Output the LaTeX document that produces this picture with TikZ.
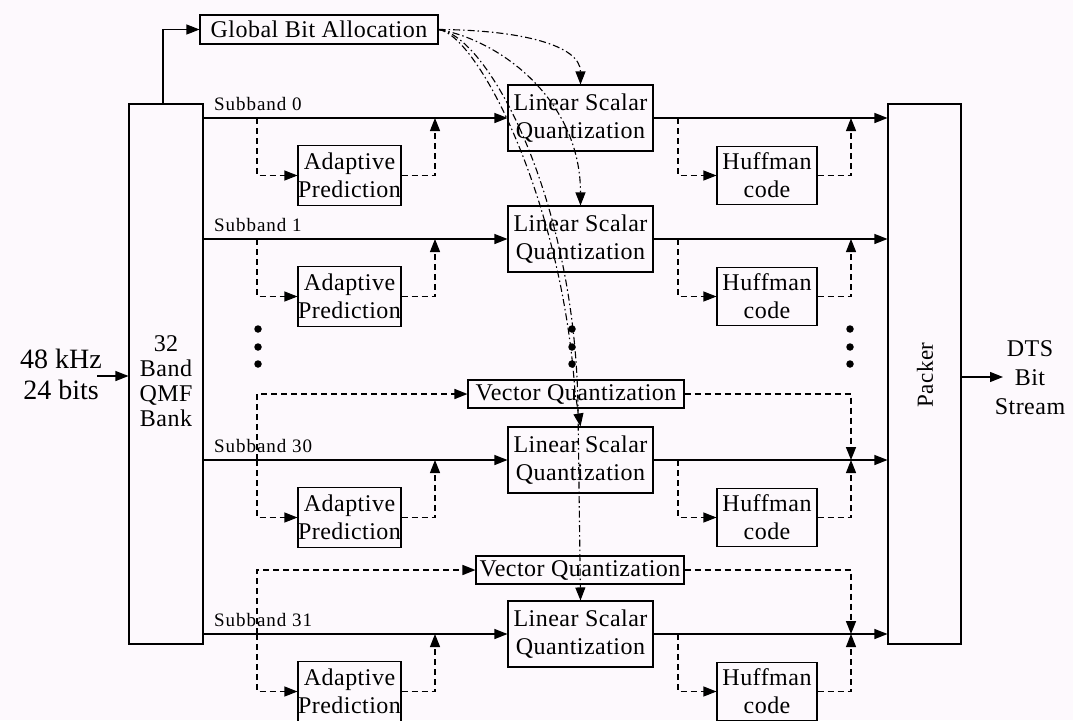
\documentclass[tikz,border=0pt]{standalone}
\usepackage{fontspec}
\setmainfont{Liberation Serif}
\newfontfamily\boxfont[LetterSpace=2]{Liberation Serif}
\newfontfamily\subfont[LetterSpace=5]{Liberation Serif}
\usetikzlibrary{arrows.meta}
\definecolor{bg}{RGB}{253,249,253}
\begin{document}
\begin{tikzpicture}[x=1pt,y=-1pt,
 box/.style={draw, line width=1.1pt, inner sep=0pt, align=center, font=\boxfont\fontsize{24}{28}\selectfont},
 arr/.style={-{Triangle[length=13pt,width=10pt]}},
 ln/.style={line width=1.2pt},
 dsh/.style={line width=1.1pt, dash pattern=on 6pt off 4pt},
 vqd/.style={line width=1.6pt, dash pattern=on 6pt off 4pt},
 dd/.style={line width=1.1pt, dash pattern=on 7pt off 3pt on 1.5pt off 3pt},
 dotn/.style={circle, fill, inner sep=0pt, minimum size=7.5pt},
 sub/.style={anchor=base west, font=\subfont\fontsize{19}{22}\selectfont, inner sep=0pt},
]
\fill[bg] (0,0) rectangle (1073,720);
\useasboundingbox (0,0) rectangle (1073,720);

\node[box, minimum width=238pt, minimum height=29pt] (gba) at (319,29.5) {Global Bit Allocation};
\node[box, minimum width=74pt, minimum height=540pt] (qmf) at (166,374) {};
\node[align=center, font=\boxfont\fontsize{24}{25}\selectfont] (qmft) at (166,381) {32\\Band\\QMF\\Bank};
\node[box, minimum width=73pt, minimum height=540pt] (pk) at (924.5,374) {};
\node[rotate=90, font=\boxfont\fontsize{23}{26}\selectfont] (pkt) at (925,375) {Packer};

\node[align=center, font=\fontsize{28}{31}\selectfont] (inp) at (61,374) {48 kHz\\24 bits};
\coordinate (ins) at (97,376);
\draw[ln,arr] (ins) -- (ins -| qmf.west);

\node[align=center, font=\boxfont\fontsize{24}{29}\selectfont] (dts) at (1030,378) {DTS\\Bit\\Stream};
\coordinate (outs) at (1003,377);
\draw[ln,arr] (outs -| pk.east) -- (outs);

\coordinate (qt) at (163,104);
\draw[ln,arr] (qt) |- (gba.west);

\foreach \k/\y in {0/118,1/239,30/460,31/634} {
  \node[box, minimum width=145pt, minimum height=66pt] (l\k) at (580.5,\y) {Linear Scalar\\Quantization};
  \node[box, minimum width=103pt, minimum height=60pt] (a\k) at (349.5,\y+57.5) {Adaptive\\Prediction};
  \node[box, minimum width=100pt, minimum height=58pt] (h\k) at (767,\y+57.5) {Huffman\\code};
  \node[sub] (s\k) at (214,\y-8) {Subband \k};
  \coordinate (b\k) at (257,\y);
  \coordinate (u\k) at (435,\y);
  \coordinate (c\k) at (678,\y);
  \coordinate (m\k) at (851,\y);
  \draw[ln,arr] (qmf.east |- l\k.west) -- (l\k.west);
  \draw[ln,arr] (l\k.east) -- (l\k.east -| pk.west);
  \draw[dsh,arr] (b\k) |- (a\k.west);
  \draw[dsh,arr] (a\k.east) -| (u\k);
  \draw[dsh,arr] (c\k) |- (h\k.west);
  \draw[dsh,arr] (h\k.east) -| (m\k);
}

\node[box, minimum width=216pt, minimum height=28pt] (v30) at (576,394) {Vector Quantization};
\node[box, minimum width=208pt, minimum height=28pt] (v31) at (580,570) {Vector Quantization};
\draw[vqd,arr] (b30) |- (v30.west);
\draw[vqd,arr] (v30.east) -| (m30);
\draw[vqd,arr] (b31) |- (v31.west);
\draw[vqd,arr] (v31.east) -| (m31);

\foreach \x in {258,572,850} \foreach \yy in {329,347,364} \node[dotn] (d\x-\yy) at (\x,\yy) {};

\draw[dd,arr] (gba.east) .. controls (520,30) and (580.5,45) .. (l0.north);
\draw[dd,arr] (gba.east) .. controls (500,40) and (580.5,100) .. (l1.north);
\draw[dd,arr] (gba.east) .. controls (478,35) and (562,200) .. (575,392) -- (l30.north);
\draw[dd,arr] (gba.east) .. controls (488,35) and (576,200) .. (578,410) -- (l31.north);
\end{tikzpicture}
\end{document}
